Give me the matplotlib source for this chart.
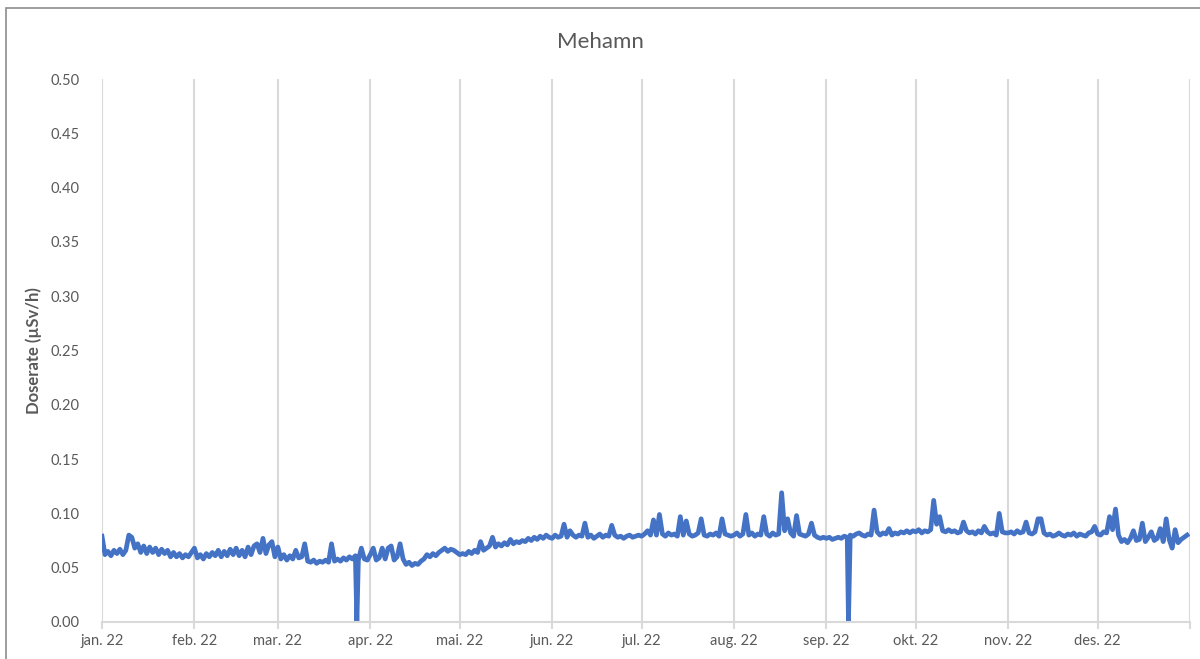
import matplotlib.pyplot as plt
import numpy as np
import pandas as pd
from matplotlib.patches import Rectangle

plt.rcParams['font.family'] = ['Lato', 'DejaVu Sans']

# daily doserate readings, µSv/h, one list per month (2022)
jan = [0.079, 0.062, 0.065, 0.061, 0.066, 0.063, 0.067, 0.062, 0.066, 0.080, 0.078, 0.068, 0.072, 0.064, 0.070, 0.063,
       0.069, 0.064, 0.068, 0.062, 0.067, 0.063, 0.066, 0.060, 0.064, 0.060, 0.063, 0.059, 0.062, 0.060, 0.064]
feb = [0.068, 0.059, 0.062, 0.058, 0.063, 0.060, 0.064, 0.061, 0.066, 0.060, 0.065, 0.061, 0.067, 0.062, 0.068, 0.061,
       0.066, 0.060, 0.069, 0.062, 0.070, 0.072, 0.064, 0.077, 0.063, 0.071, 0.074, 0.060]
mar = [0.069, 0.058, 0.062, 0.057, 0.061, 0.058, 0.066, 0.059, 0.060, 0.072, 0.056, 0.055, 0.057, 0.054, 0.056, 0.055,
       0.057, 0.055, 0.072, 0.056, 0.058, 0.056, 0.059, 0.057, 0.060, 0.058, 0.061, 0.057, 0.068, 0.058, 0.057]
apr = [0.062, 0.068, 0.057, 0.059, 0.068, 0.058, 0.068, 0.070, 0.057, 0.060, 0.072, 0.058, 0.053, 0.055, 0.052, 0.054,
       0.053, 0.056, 0.058, 0.062, 0.060, 0.063, 0.061, 0.064, 0.066, 0.068, 0.065, 0.067, 0.066, 0.064]
mai = [0.062, 0.063, 0.062, 0.065, 0.063, 0.066, 0.064, 0.074, 0.066, 0.068, 0.070, 0.078, 0.069, 0.072, 0.070, 0.073,
       0.071, 0.076, 0.072, 0.074, 0.073, 0.075, 0.074, 0.077, 0.075, 0.078, 0.076, 0.079, 0.077, 0.080, 0.078]
jun = [0.077, 0.080, 0.078, 0.079, 0.090, 0.078, 0.084, 0.080, 0.078, 0.080, 0.079, 0.091, 0.078, 0.080, 0.077, 0.079,
       0.081, 0.078, 0.080, 0.079, 0.089, 0.080, 0.078, 0.079, 0.077, 0.079, 0.080, 0.078, 0.079, 0.080]
jul = [0.079, 0.081, 0.084, 0.080, 0.094, 0.080, 0.099, 0.081, 0.079, 0.082, 0.080, 0.081, 0.079, 0.097, 0.080, 0.093,
       0.081, 0.079, 0.080, 0.082, 0.095, 0.080, 0.079, 0.081, 0.080, 0.082, 0.079, 0.095, 0.081, 0.080, 0.079]
aug = [0.080, 0.082, 0.079, 0.081, 0.099, 0.080, 0.082, 0.079, 0.081, 0.080, 0.097, 0.081, 0.079, 0.082, 0.080, 0.081,
       0.119, 0.084, 0.095, 0.082, 0.079, 0.098, 0.081, 0.080, 0.079, 0.081, 0.091, 0.080, 0.078, 0.077, 0.078]
sep = [0.077, 0.078, 0.076, 0.077, 0.078, 0.077, 0.079, 0.078, 0.080, 0.079, 0.081, 0.082, 0.080, 0.079, 0.081, 0.080,
       0.103, 0.083, 0.080, 0.082, 0.081, 0.086, 0.080, 0.082, 0.081, 0.083, 0.082, 0.084, 0.082, 0.084]
okt = [0.083, 0.085, 0.082, 0.084, 0.083, 0.085, 0.112, 0.090, 0.097, 0.084, 0.083, 0.085, 0.083, 0.084, 0.082, 0.083,
       0.092, 0.084, 0.082, 0.083, 0.081, 0.084, 0.082, 0.088, 0.083, 0.081, 0.082, 0.080, 0.100, 0.083, 0.082]
nov = [0.082, 0.083, 0.081, 0.084, 0.082, 0.083, 0.092, 0.082, 0.081, 0.083, 0.095, 0.095, 0.082, 0.080, 0.081, 0.079,
       0.080, 0.082, 0.080, 0.079, 0.081, 0.080, 0.082, 0.079, 0.081, 0.080, 0.079, 0.082, 0.083, 0.088]
des = [0.081, 0.080, 0.083, 0.082, 0.097, 0.085, 0.104, 0.080, 0.074, 0.076, 0.073, 0.077, 0.084, 0.075, 0.076, 0.091,
       0.074, 0.078, 0.083, 0.075, 0.077, 0.086, 0.074, 0.095, 0.076, 0.068, 0.085, 0.073, 0.076, 0.078, 0.080]

# instrument dropouts (reading 0)
dropout_times = ['2022-03-27 12:00', '2022-09-08 10:00']
dropout_vals = [0.0, 0.0]

month_labels = ['jan. 22', 'feb. 22', 'mar. 22', 'apr. 22', 'mai. 22', 'jun. 22', 'jul. 22',
                'aug. 22', 'sep. 22', 'okt. 22', 'nov. 22', 'des. 22', '']

daily = jan + feb + mar + apr + mai + jun + jul + aug + sep + okt + nov + des
s = pd.Series(daily, index=pd.date_range('2022-01-01', periods=len(daily), freq='D'))
s = pd.concat([s, pd.Series(dropout_vals, index=pd.to_datetime(dropout_times))]).sort_index()

grey = '#595959'
fig = plt.figure(figsize=(12, 6.59), dpi=100)
ax = fig.add_axes([0.085, 0.0562, 0.9067, 0.8238])

ax.plot(s.index, s.values, color='#4472C4', lw=3.4, solid_joinstyle='round')

ticks = pd.date_range('2022-01-01', periods=13, freq='MS')
ax.set_xticks(ticks)
ax.set_xticklabels(month_labels)
ax.set_xlim(ticks[0], ticks[-1])
ax.set_ylim(0, 0.5)
ax.set_yticks(np.arange(0, 0.51, 0.05))
ax.set_yticklabels(['%.2f' % v for v in np.arange(0, 0.51, 0.05)])

ax.grid(axis='x', color='#d9d9d9', lw=1.5)
ax.set_axisbelow(True)
for sp in ['top', 'right', 'left']:
    ax.spines[sp].set_visible(False)
ax.spines['bottom'].set_color('#d9d9d9')
ax.spines['bottom'].set_linewidth(1.5)
ax.tick_params(axis='x', colors='#d9d9d9', length=5, width=1.5, labelcolor=grey, labelsize=10.5, pad=4)
ax.tick_params(axis='y', length=0, labelcolor=grey, labelsize=10.5, pad=16)

ax.set_ylabel('Doserate (µSv/h)', fontsize=12, fontweight='bold', color=grey, labelpad=6)
fig.text(0.5, 0.936, 'Mehamn', ha='center', va='center', fontsize=16, color=grey)

# outer chart border (right and bottom edges fall outside the image)
fig.patches.append(Rectangle((0.005, -0.1), 1.5, 1.088, transform=fig.transFigure,
                             fill=False, edgecolor='#8c8c8c', lw=1.2))

fig.savefig('out.png', dpi=100)
